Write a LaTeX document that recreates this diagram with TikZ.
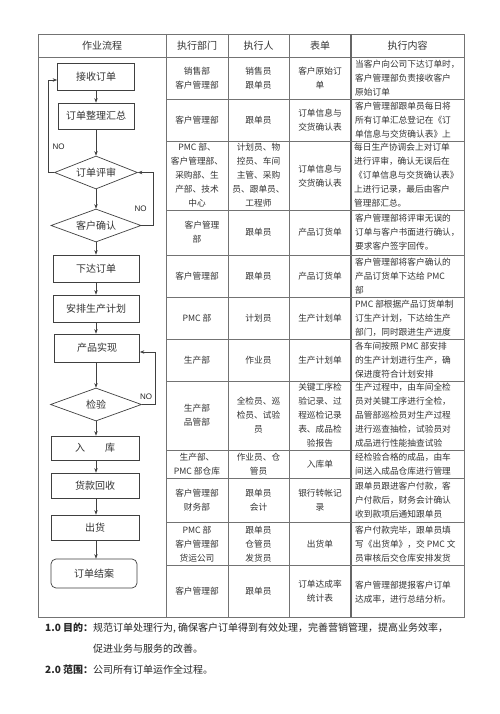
\documentclass[tikz,border=0pt]{standalone}
\usepackage{fontspec}
\setmainfont{Noto Sans CJK SC}
\newfontfamily\latf{Liberation Sans}
\usetikzlibrary{shapes.geometric,arrows.meta}
\tikzset{
  tbl/.style={draw=black!55, line width=0.6pt},
  tblthick/.style={draw=black!60, line width=1.1pt},
  box/.style={draw=black!75, line width=0.7pt, inner sep=0pt, text=black!80, font=\fontsize{10}{12}\selectfont},
  dia/.style={diamond, aspect=2.5, draw=black!75, line width=0.7pt, inner sep=0pt, text=black!80, font=\fontsize{10}{12}\selectfont},
  arr/.style={-{Stealth[length=4.5pt,width=3.5pt]}, draw=black!75, line width=0.7pt},
  cell/.style={align=center, inner sep=0pt, text=black!80, font=\fontsize{8.7}{14}\selectfont},
  ctxt/.style={align=left, anchor=west, inner sep=0pt, text=black!80, font=\fontsize{8.7}{14}\selectfont},
  head/.style={inner sep=0pt, text=black!80, font=\fontsize{10}{12}\selectfont},
  nolab/.style={inner sep=0pt, text=black!85, font=\latf\fontsize{8}{10}\selectfont},
  foot/.style={anchor=west, inner sep=0pt, text=black!85, font=\fontsize{10}{12}\selectfont}
}
\begin{document}
\begin{tikzpicture}[x=1pt,y=-1pt]
\useasboundingbox (0,0) rectangle (500,714);
\fill[white] (0,0) rectangle (500,714);

% table frame
\draw[tbl] (38,34) rectangle (464,617);
\draw[tbl] (38,57) -- (464,57);
\foreach \x in {166,228,289} \draw[tbl] (\x,34) -- (\x,617);
\draw[tblthick] (351,34) -- (351,617);
\foreach \y in {99,141,210,255,297,339,381,450,478,522,565} \draw[tbl] (166,\y) -- (464,\y);

% header
\node[head] (h1) at (102,45.5) {作业流程};
\node[head] (h2) at (197,45.5) {执行部门};
\node[head] (h3) at (258.5,45.5) {执行人};
\node[head] (h4) at (320,45.5) {表单};
\node[head] (h5) at (407.5,45.5) {执行内容};

% rows: dept / person / form / content
\node[cell] (dep1) at (197,78) {销售部\\客户管理部};
\node[cell] (per1) at (258.5,78) {销售员\\跟单员};
\node[cell] (frm1) at (320,78) {客户原始订\\单};
\node[ctxt] (txt1) at (355,78) {当客户向公司下达订单时，\\客户管理部负责接收客户\\原始订单};

\node[cell] (dep2) at (197,120) {客户管理部};
\node[cell] (per2) at (258.5,120) {跟单员};
\node[cell] (frm2) at (320,120) {订单信息与\\交货确认表};
\node[ctxt] (txt2) at (355,120) {客户管理部跟单员每日将\\所有订单汇总登记在《订\\单信息与交货确认表》上};

\node[cell] (dep3) at (197,175.5) {PMC 部、\\客户管理部、\\采购部、生\\产部、技术\\中心};
\node[cell] (per3) at (258.5,175.5) {计划员、物\\控员、车间\\主管、采购\\员、跟单员、\\工程师};
\node[cell] (frm3) at (320,176) {订单信息与\\交货确认表};
\node[ctxt] (txt3) at (354,175.5) {每日生产协调会上对订单\\进行评审，确认无误后在\\《订单信息与交货确认表》\\上进行记录，最后由客户\\管理部汇总。};

\node[cell] (dep4) at (197,232.5) {\hspace*{10pt}客户管理\\部};
\node[cell] (per4) at (258.5,232.5) {跟单员};
\node[cell] (frm4) at (320,232.5) {产品订货单};
\node[ctxt] (txt4) at (355,232.5) {客户管理部将评审无误的\\订单与客户书面进行确认，\\要求客户签字回传。};

\node[cell] (dep5) at (197,276) {客户管理部};
\node[cell] (per5) at (258.5,276) {跟单员};
\node[cell] (frm5) at (320,276) {产品订货单};
\node[ctxt] (txt5) at (355,276) {客户管理部将客户确认的\\产品订货单下达给 PMC\\部};

\node[cell] (dep6) at (197,318) {PMC 部};
\node[cell] (per6) at (258.5,318) {计划员};
\node[cell] (frm6) at (320,318) {生产计划单};
\node[ctxt] (txt6) at (355,318) {PMC 部根据产品订货单制\\订生产计划，下达给生产\\部门，同时跟进生产进度};

\node[cell] (dep7) at (197,360) {生产部};
\node[cell] (per7) at (258.5,360) {作业员};
\node[cell] (frm7) at (320,360) {生产计划单};
\node[ctxt] (txt7) at (355,360) {各车间按照 PMC 部安排\\的生产计划进行生产，确\\保进度符合计划安排};

\node[cell] (dep8) at (197,415) {生产部\\品管部};
\node[cell] (per8) at (258.5,415) {全检员、巡\\检员、试验\\员};
\node[cell] (frm8) at (320,415.5) {关键工序检\\验记录、过\\程巡检记录\\表、成品检\\验报告};
\node[ctxt] (txt8) at (355,415.5) {生产过程中，由车间全检\\员对关键工序进行全检，\\品管部巡检员对生产过程\\进行巡查抽检，试验员对\\成品进行性能抽查试验};

\node[cell] (dep9) at (197,464) {生产部、\\PMC 部仓库};
\node[cell] (per9) at (258.5,464) {作业员、仓\\管员};
\node[cell] (frm9) at (320,464) {入库单};
\node[ctxt] (txt9) at (355,464) {经检验合格的成品，由车\\间送入成品仓库进行管理};

\node[cell] (dep10) at (197,500) {客户管理部\\财务部};
\node[cell] (per10) at (258.5,500) {跟单员\\会计};
\node[cell] (frm10) at (320,500) {银行转帐记\\录};
\node[ctxt] (txt10) at (355,500) {跟单员跟进客户付款，客\\户付款后，财务会计确认\\收到款项后通知跟单员};

\node[cell] (dep11) at (197,544) {PMC 部\\客户管理部\\货运公司};
\node[cell] (per11) at (258.5,544) {跟单员\\仓管员\\发货员};
\node[cell] (frm11) at (320,544) {出货单};
\node[ctxt] (txt11) at (355,544) {客户付款完毕，跟单员填\\写《出货单》，交 PMC 文\\员审核后交仓库安排发货};

\node[cell] (dep12) at (197,591) {客户管理部};
\node[cell] (per12) at (258.5,591) {跟单员};
\node[cell] (frm12) at (320,591) {订单达成率\\统计表};
\node[ctxt] (txt12) at (355,592) {客户管理部提报客户订单\\达成率，进行总结分析。};

% flowchart
\node[box, minimum width=77pt, minimum height=27pt] (s1) at (96,76.5) {接收订单};
\node[box, minimum width=76pt, minimum height=26pt] (s2) at (96,116) {订单整理汇总};
\node[dia, minimum width=83pt, minimum height=33pt] (q1) at (96,172.5) {订单评审};
\node[dia, minimum width=90pt, minimum height=33pt] (q2) at (96,225.5) {客户确认};
\node[box, minimum width=86pt, minimum height=27pt] (s3) at (96,268.5) {下达订单};
\node[box, minimum width=86pt, minimum height=27pt] (s4) at (96,308.5) {安排生产计划};
\node[box, minimum width=85pt, minimum height=28pt] (s5) at (97,348) {产品实现};
\node[dia, minimum width=91pt, minimum height=33pt] (q3) at (96,404.5) {检验};
\node[box, minimum width=88pt, minimum height=24pt] (s6) at (95,448) {入\hspace{2em}库};
\node[box, minimum width=88pt, minimum height=25pt] (s7) at (95,485.5) {货款回收};
\node[box, minimum width=88pt, minimum height=25pt] (s8) at (95,527.5) {出货};
\node[box, rounded corners=5pt, minimum width=86pt, minimum height=29pt] (s9) at (94,573.5) {订单结案};

\draw[arr] (s1.south -| q1) -- (s2.north -| q1);
\draw[arr] (s2.south -| q1) -- (q1.north);
\draw[arr] (q1.south) -- (q2.north);
\draw[arr] (q2.south) -- (s3.north -| q2);
\draw[arr] (s3.south -| q2) -- (s4.north -| q2);
\draw[arr] (s4.south -| q2) -- (s5.north -| q2);
\draw[arr] (s5.south -| q3) -- (q3.north);
\draw[arr] (q3.south) -- (s6.north -| q3);
\draw[arr] (s6.south -| q3) -- (s7.north -| q3);
\draw[arr] (s7.south -| q3) -- (s8.north -| q3);
\draw[arr] (s8.south -| q3) -- (s9.north -| q3);

\coordinate (l1) at (48,172.5);
\coordinate (l2) at (153,225.5);
\coordinate (l3) at (155,404.5);
\draw[arr] (q1.west) -- (l1) |- ([yshift=-3.5pt]s1.west);
\draw[arr] (q2.east) -- (l2) |- (q1.east);
\draw[arr] (q3.east) -- (l3) |- ([yshift=-4pt]s5.east);

\node[nolab] (no1) at (58.5,147) {NO};
\node[nolab] (no2) at (140.5,209) {NO};
\node[nolab] (no3) at (146,397) {NO};

% footer text
\node[foot, font=\bfseries\fontsize{10}{12}\selectfont] (f1a) at (45,628) {1.0 目的：};
\node[foot] (f1b) at (93,628) {规范订单处理行为, 确保客户订单得到有效处理，完善营销管理，提高业务效率，};
\node[foot] (f1c) at (93,649) {促进业务与服务的改善。};
\node[foot, font=\bfseries\fontsize{10}{12}\selectfont] (f2a) at (45,670) {2.0 范围：};
\node[foot] (f2b) at (93,670) {公司所有订单运作全过程。};
\end{tikzpicture}
\end{document}
